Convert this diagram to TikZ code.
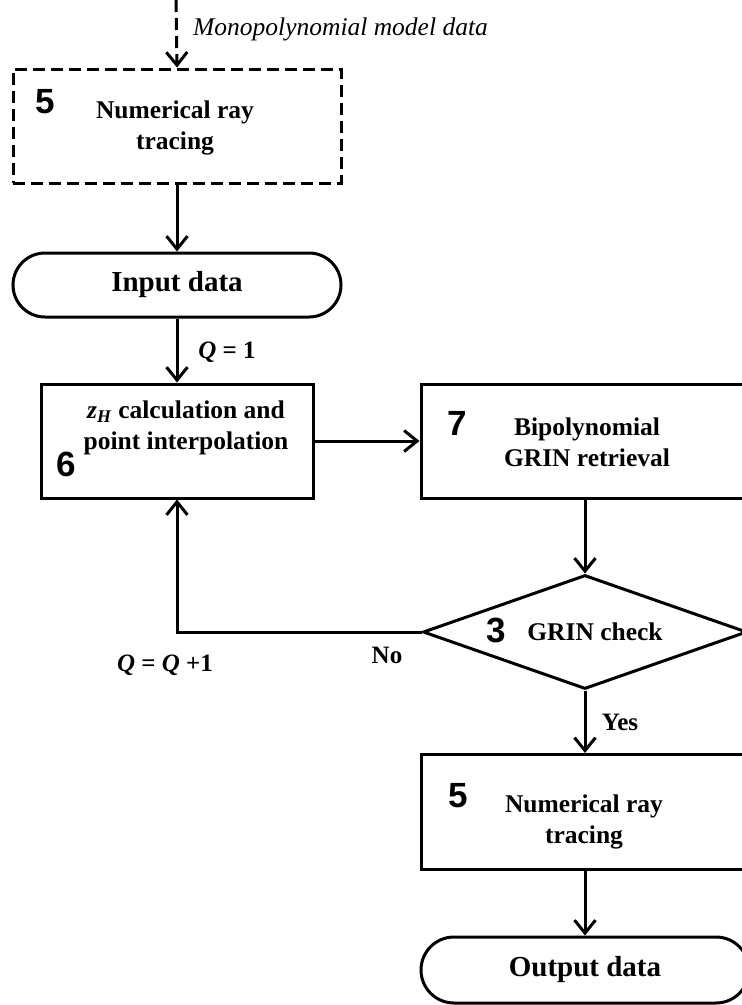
\documentclass[tikz,border=0pt]{standalone}
\usepackage{fontspec}
\setmainfont{Liberation Serif}
\newfontfamily\numfont{Liberation Sans}
\usetikzlibrary{arrows.meta,shapes.geometric,shapes.misc,positioning}
\tikzset{
  every picture/.style={x=1pt,y=-1pt},
  lw/.style={line width=3pt},
  procbox/.style={draw,lw,rectangle,inner sep=0pt,minimum height=114pt},
  termbox/.style={draw,lw,rounded rectangle,inner sep=0pt,minimum width=328pt,minimum height=64pt,
    font=\fontsize{29}{31}\selectfont\bfseries},
  decbox/.style={draw,lw,diamond,inner sep=0pt,minimum width=324pt,minimum height=114pt},
  boxtext/.style={align=center,font=\fontsize{25.5}{31}\selectfont\bfseries,inner sep=0pt},
  numtext/.style={font=\fontsize{35}{35}\selectfont\numfont\bfseries,inner sep=0pt},
  lbltext/.style={font=\fontsize{25}{28}\selectfont\bfseries,inner sep=0pt},
  flow/.style={lw,-{Straight Barb[length=13pt,width=21pt,line width=3pt]}},
  dashflow/.style={flow,dash pattern=on 12pt off 6pt},
}
\begin{document}
\begin{tikzpicture}
\useasboundingbox (0,0) rectangle (742,1005);
\clip (0,0) rectangle (742,1005);
% shapes
\node[procbox,minimum width=328pt,dash pattern=on 12pt off 6pt] (b1) at (177,126) {};
\node[termbox] (in) at (177,285) {Input data};
\node[procbox,minimum width=272pt] (b6) at (177,441) {};
\node[procbox,minimum width=328pt] (b7) at (585,441) {};
\node[decbox] (dia) at (585,632) {};
\node[procbox,minimum width=328pt,minimum height=115pt] (b5) at (585,812) {};
\node[termbox,minimum height=66pt] (out) at (585,970) {Output data};
% texts
\node[boxtext] (t1) at (175,128) {Numerical ray\\tracing};
\node[boxtext] (t6) at (186,428) {\textit{z}\textsubscript{\textit{H}} calculation and\\point interpolation};
\node[boxtext] (t7) at (587,442) {Bipolynomial\\GRIN retrieval};
\node[boxtext] (t3) at (595,632) {GRIN check};
\node[boxtext] (t5) at (584,822) {Numerical ray\\tracing};
\node[numtext] (n1) at (45,102) {5};
\node[numtext] (n6) at (66,464) {6};
\node[numtext] (n7) at (457,423) {7};
\node[numtext] (n3) at (496,630) {3};
\node[numtext] (n5) at (458,796) {5};
% connectors
\coordinate (top) at (176,0);
\draw[dashflow] (top) -- (b1.north);
\node[anchor=base west,inner sep=0pt,font=\fontsize{25.5}{28}\selectfont\itshape] (mono) at (193,35) {Monopolynomial model data};
\draw[flow] (b1.south) -- (in.north);
\draw[flow] (in.south) -- (b6.north);
\draw[flow] (b6.east) -- (b7.west);
\draw[flow] (b7.south) -- (dia.north);
\draw[flow] (dia.west) -| (b6.south);
\draw[flow] (dia.south) -- (b5.north);
\draw[flow] (b5.south) -- (out.north);
% labels
\node[lbltext] (q1) at (227,352) {\textit{Q} = 1};
\node[lbltext] (no) at (387,655) {No};
\node[lbltext] (qq) at (165,665) {\textit{Q} = \textit{Q} +1};
\node[lbltext] (yes) at (620,722) {Yes};
\end{tikzpicture}
\end{document}
